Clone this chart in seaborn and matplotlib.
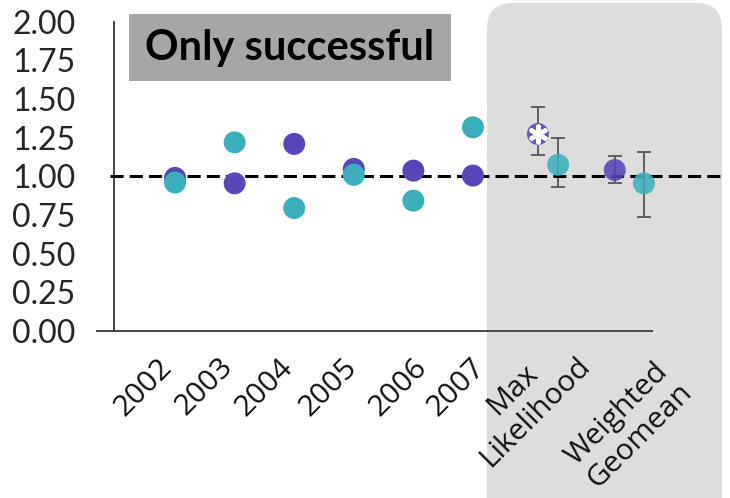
import numpy as np
import pandas as pd
import matplotlib
matplotlib.use("Agg")
import matplotlib.pyplot as plt
from matplotlib.patches import FancyBboxPatch, Rectangle
from matplotlib.transforms import ScaledTranslation
import seaborn as sns

# ---- data -------------------------------------------------------------
categories = ["2002", "2003", "2004", "2005", "2006", "2007",
              "Max\nLikelihood", "Weighted\nGeomean"]
group_a = [0.99, 0.955, 1.21, 1.048, 1.037, 1.005, 1.274, 1.041]
group_b = [0.96, 1.22, 0.795, 1.01, 0.843, 1.317, 1.075, 0.955]
# confidence limits for the two summary estimates (last two categories)
group_a_low = [1.14, 0.955]
group_a_high = [1.45, 1.134]
group_b_low = [0.933, 0.74]
group_b_high = [1.25, 1.155]
y_ticks = [0.0, 0.25, 0.5, 0.75, 1.0, 1.25, 1.5, 1.75, 2.0]
title_text = "Only successful"

# ---- layout -----------------------------------------------------------
slot = [0, 1, 2, 3, 4, 5, 6.26, 7.62]
tick_pos = [-0.23, 0.79, 1.81, 2.87, 4.06, 5.03, 6.02, 7.58]
dodge_a = [0, 0, 0, 0, 0, 0, -0.17, -0.24]
dodge_b = [0, 0, 0, 0, 0, 0, 0.17, 0.25]
# label centre offsets from the tick end, in pixels (right, down)
label_shift = [(-18, 36)] * 6 + [(-10, 50), (2, 74)]

col_a = "#5944B8"
col_b = "#3BB0BC"

W, H = 730, 498
fig = plt.figure(figsize=(W / 100, H / 100), dpi=100)
sns.set_style("white")

# shaded panel behind the summary estimates
panel = FancyBboxPatch((487 / W, -30 / H), 235 / W, 525 / H,
                       boxstyle="round,pad=0,rounding_size=0.035",
                       transform=fig.transFigure, facecolor="#DDDDDD",
                       edgecolor="none", zorder=0, mutation_aspect=W / H)
fig.patches.append(panel)

ax = fig.add_axes([97 / W, (H - 331) / H, (722 - 97) / W, (331 - 21.7) / H])
ax.set_zorder(2)
ax.patch.set_alpha(0)

x0 = -1.31
x1 = 9.18
ax.set_xlim(x0, x1)
ax.set_ylim(0, 2.0)

rows = []
for i, c in enumerate(categories):
    rows.append({"x": slot[i] + dodge_a[i], "y": group_a[i], "group": "A",
                 "summary": i >= 6})
    rows.append({"x": slot[i] + dodge_b[i], "y": group_b[i], "group": "B",
                 "summary": i >= 6})
df = pd.DataFrame(rows)

# error bars for the summary estimates
n = len(categories)
for k, i in enumerate(range(n - 2, n)):
    xa = slot[i] + dodge_a[i]
    xb = slot[i] + dodge_b[i]
    ax.errorbar([xa], [group_a[i]],
                yerr=[[group_a[i] - group_a_low[k]], [group_a_high[k] - group_a[i]]],
                fmt="none", ecolor="#555555", elinewidth=1.3, capsize=5,
                capthick=1.3, zorder=2)
    ax.errorbar([xb], [group_b[i]],
                yerr=[[group_b[i] - group_b_low[k]], [group_b_high[k] - group_b[i]]],
                fmt="none", ecolor="#555555", elinewidth=1.3, capsize=5,
                capthick=1.3, zorder=2)

ax.axhline(1.0, xmin=(110 - 97) / (722 - 97), xmax=1, color="black",
           lw=2.2, dashes=(4.3, 2.0), zorder=3)

pal = {"A": col_a, "B": col_b}
sns.scatterplot(data=df[~df["summary"]], x="x", y="y", hue="group",
                palette=pal, s=250, linewidth=0, legend=False, ax=ax,
                zorder=4)
sns.scatterplot(data=df[df["summary"]], x="x", y="y", hue="group",
                palette=pal, s=250, linewidth=0, alpha=0.88, legend=False,
                ax=ax, zorder=4)

# significance mark on the max-likelihood estimate of group A
ax.scatter([slot[6] + dodge_a[6]], [group_a[6]], marker=(6, 2, 0), s=130,
           color="white", linewidths=3.2, zorder=5)

# axes styling
for s in ["top", "right"]:
    ax.spines[s].set_visible(False)
ax.spines["left"].set_position(("data", -1.02))
ax.spines["left"].set_bounds(0, 2.0)
ax.spines["bottom"].set_bounds(x0, 8.0)
for s in ["left", "bottom"]:
    ax.spines[s].set_color("#444444")
    ax.spines[s].set_linewidth(1.4)

ax.set_yticks(y_ticks)
ax.set_yticklabels([f"{v:.2f}" for v in y_ticks], fontsize=23,
                   family="Lato")
ax.tick_params(axis="y", direction="inout", length=18, width=1.4,
               color="#444444", pad=19)

ax.set_xticks(tick_pos)
ax.set_xticklabels(categories, fontsize=21.5, family="Open Sans",
                   rotation=45, ha="center", va="center",
                   rotation_mode="anchor", multialignment="center",
                   linespacing=1.12, color="#111111")
ax.tick_params(axis="x", direction="out", length=14.4, width=1.6,
               color="#333333", pad=0)
for lab, (dx, dy) in zip(ax.get_xticklabels(), label_shift):
    lab.set_transform(lab.get_transform() +
                      ScaledTranslation(dx / 100, -dy / 100,
                                        fig.dpi_scale_trans))
ax.set_xlabel("")
ax.set_ylabel("")

# title box
fig.patches.append(Rectangle((129 / W, (H - 81) / H), (451 - 129) / W,
                             (81 - 14) / H, transform=fig.transFigure,
                             facecolor="#A6A6A6", edgecolor="none",
                             zorder=1))
fig.text(290 / W, (H - 48) / H, title_text, fontsize=30, fontweight="bold",
         family="Lato", ha="center", va="center", color="black", zorder=6)

fig.savefig("out.png", dpi=100)
